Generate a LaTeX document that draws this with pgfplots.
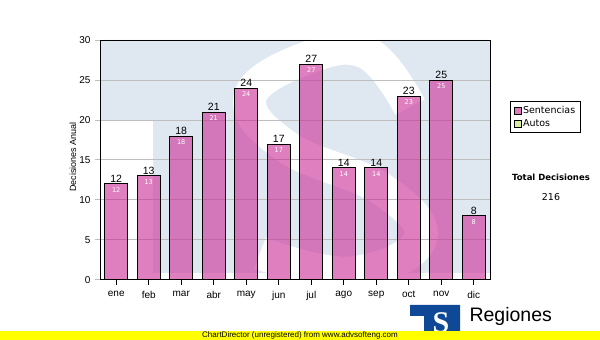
\documentclass[border=0pt]{standalone}
\usepackage{fontspec}
\setmainfont{Liberation Sans}
\newfontfamily\dv{DejaVu Sans}
\newfontfamily\lserif{Liberation Serif}
\usepackage{pgfplots}
\pgfplotsset{compat=1.18}
\definecolor{bgblue}{RGB}{223,232,241}
\definecolor{barpink}{RGB}{203,43,150}
\definecolor{legpink}{RGB}{222,124,190}
\definecolor{autos}{RGB}{216,236,168}
\definecolor{logoblue}{RGB}{16,72,152}
\definecolor{gridc}{RGB}{190,190,190}
\definecolor{yel}{RGB}{255,255,0}
\pgfplotstableread{
x y
0 12
1 13
2 18
3 21
4 24
5 17
6 27
7 14
8 14
9 23
10 25
11 8
}\data
\begin{document}
\begin{tikzpicture}[x=1pt,y=1pt]
\path[fill=white] (0,0) rectangle (600,340);
% watermark behind the plot area
\begin{scope}
\clip (100,60) rectangle (490,300);
\fill[bgblue] (100,300) -- (490,300) -- (490,67) -- (153,67) -- (153,220) -- (100,220) -- cycle;
\draw[white, line width=33pt] plot[smooth, tension=0.7] coordinates {(410,233) (367,287) (307,282) (250,243) (287,193) (383,150) (420,100) (350,67) (260,87)};
\end{scope}
\begin{axis}[
  at={(100pt,60pt)}, anchor=south west, scale only axis,
  width=390pt, height=240pt,
  xmin=-0.5, xmax=11.5, ymin=0, ymax=30,
  xtick={0,...,11},
  xticklabels={ene,feb,mar,abr,may,jun,jul,ago,sep,oct,nov,dic},
  ytick={0,5,...,30},
  ymajorgrids, grid style={gridc, line width=1pt},
  tick align=outside, major tick length=5pt,
  tick pos=left,
  ytick style={gridc, line width=1pt},
  xtick style={black, line width=1pt},
  axis line style={line width=1pt},
  tick label style={font=\fontsize{10}{12}\selectfont},
  /pgf/number format/assume math mode=true,
  yticklabel style={xshift=-1pt},
  xticklabel style={yshift=-2.5pt},
  legend style={at={(1.051,0.745)}, anchor=north west, draw=black, line width=0.8pt,
    font=\dv\fontsize{9.5}{11.5}\selectfont, inner sep=3.5pt, row sep=1pt,
    nodes={inner sep=1.5pt}},
  legend cell align=left,
]
\addplot[ybar, bar width=23pt, bar shift=0pt, fill=barpink, fill opacity=0.6, draw=black, line width=1pt, forget plot] table[x=x,y=y] {\data};
\addplot[ybar, bar width=23pt, bar shift=0pt, draw=none, fill=none, forget plot,
  nodes near coords, nodes near coords style={anchor=south, inner sep=1pt, text=black, font=\fontsize{10.5}{12}\selectfont}] table[x=x,y=y] {\data};
\addplot[ybar, bar width=23pt, bar shift=0pt, draw=none, fill=none, forget plot,
  nodes near coords, nodes near coords style={anchor=north, inner sep=1pt, yshift=-2.5pt, text=white, font=\dv\fontsize{6.5}{7}\selectfont}] table[x=x,y=y] {\data};
\addlegendimage{legend image code/.code={\draw[fill=legpink,draw=black,line width=0.8pt] (0pt,-3.5pt) rectangle (7pt,3.5pt);}}
\addlegendentry{Sentencias}
\addlegendimage{legend image code/.code={\draw[fill=autos,draw=black,line width=0.8pt] (0pt,-3.5pt) rectangle (7pt,3.5pt);}}
\addlegendentry{Autos}
\end{axis}
\node[rotate=90, font=\fontsize{9}{10}\selectfont] at (73,183) {Decisiones Anual};
\node[font=\dv\bfseries\fontsize{8.5}{10}\selectfont] at (551,163) {Total Decisiones};
\node[font=\dv\fontsize{9.5}{10}\selectfont] at (551,143) {216};
% logo
\fill[logoblue] (410,35) -- (460,35) -- (460,2) -- (424,2) -- (424,24) -- (410,24) -- cycle;
\node[text=white, font=\lserif\bfseries\fontsize{30}{30}\selectfont] at (441,17) {S};
\node[anchor=west, font=\fontsize{19.5}{20}\selectfont] at (466,24) {Regiones};
\fill[yel] (0,0) rectangle (600,9);
\node[font=\fontsize{8}{8}\selectfont, inner sep=0pt] at (300,4.5) {ChartDirector (unregistered) from www.advsofteng.com};
\end{tikzpicture}
\end{document}
